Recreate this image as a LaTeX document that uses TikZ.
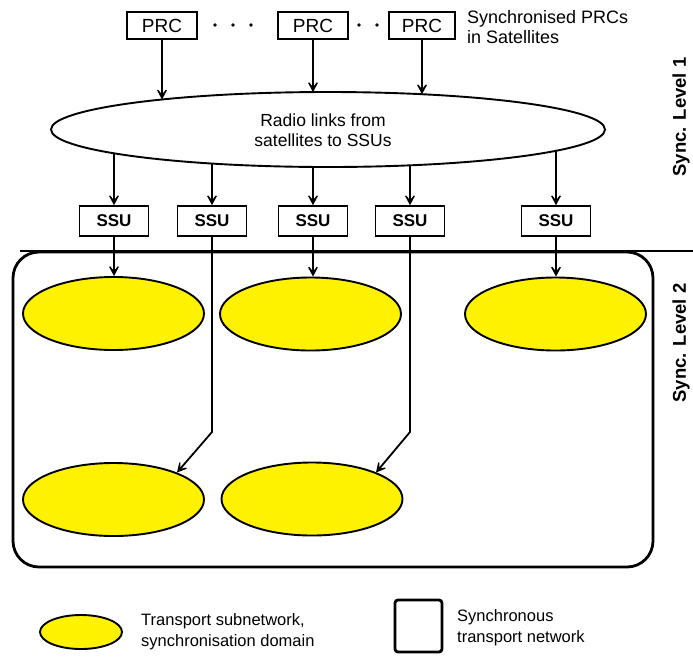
\documentclass[tikz,border=0pt]{standalone}
\usepackage{fontspec}
\setmainfont{Liberation Sans}
\usetikzlibrary{arrows.meta,shapes.geometric}

\begin{document}
\begin{tikzpicture}[x=1pt,y=-1pt,
  arr/.style={-{Stealth[length=15pt,width=16pt,inset=10pt]}, line width=1.8pt},
  prc/.style={draw, line width=1.6pt, minimum width=70pt, minimum height=27pt,
    inner sep=0pt, font=\fontsize{19}{22}\selectfont},
  ssu/.style={draw, line width=1.6pt, minimum width=69pt, minimum height=30pt,
    inner sep=0pt, font=\bfseries\fontsize{17}{19}\selectfont},
  dom/.style={ellipse, draw, fill=yellow, line width=1.9pt, inner sep=0pt,
    minimum width=181pt, minimum height=73pt},
  lbl/.style={align=left, anchor=west, inner sep=0pt},
  level/.style={rotate=90, font=\bfseries\fontsize{18.5}{21}\selectfont}]
\useasboundingbox (0,0) rectangle (693,657);

% primary reference clocks
\node[prc] (p1) at (162,25.5) {PRC};
\node[prc] (p2) at (313,25.5) {PRC};
\node[prc, minimum width=66pt] (p3) at (422,25.5) {PRC};
\foreach \x in {215,233,251,359,377} \fill (\x,25) circle (1.8pt);
\node[lbl, font=\fontsize{18}{19.5}\selectfont] (ptxt) at (467,27)
  {Synchronised PRCs\\in Satellites};

% radio links
\node[ellipse, draw, line width=1.9pt, inner sep=0pt,
  minimum width=554pt, minimum height=75pt] (radio) at (328,129.5) {};
\node[align=center, inner sep=0pt, font=\fontsize{17.5}{20}\selectfont]
  (rtxt) at (323,130) {Radio links from\\satellites to SSUs};

\coordinate (t1) at (162,99.5);
\coordinate (t2) at (313,92.1);
\coordinate (t3) at (422,94.2);
\draw[arr] (p1.south) -- (t1);
\draw[arr] (p2.south) -- (t2);
\draw[arr] (p3.south) -- (t3);

% synchronisation supply units
\node[ssu] (s1) at (114,221) {SSU};
\node[ssu] (s2) at (212,221) {SSU};
\node[ssu] (s3) at (313,221) {SSU};
\node[ssu] (s4) at (410,221) {SSU};
\node[ssu] (s5) at (556,221) {SSU};

\coordinate (b1) at (114,153.3);
\coordinate (b2) at (212,163.6);
\coordinate (b3) at (313,166.9);
\coordinate (b4) at (410,165.3);
\coordinate (b5) at (556,150.8);
\foreach \i in {1,...,5} \draw[arr] (b\i) -- (s\i.north);

% level boundary and transport network
\coordinate (hl) at (20,251);
\coordinate (hr) at (693,251);
\node[draw, line width=2.8pt, rounded corners=26pt, inner sep=0pt,
  minimum width=640pt, minimum height=315pt] (net) at (333,409.5) {};
\draw[line width=2.6pt] (hl) -- (hr);

% transport subnetworks
\node[dom] (e1) at (113.5,313.5) {};
\node[dom] (e2) at (310.5,314) {};
\node[dom] (e3) at (555.5,314) {};
\node[dom] (e4) at (113.5,499.5) {};
\node[dom] (e5) at (312,499) {};

\draw[arr] (s1.south) -- (s1.south |- e1.north);
\draw[arr] (s3.south) -- (s3.south |- e2.north);
\draw[arr] (s5.south) -- (s5.south |- e3.north);

\coordinate (k2) at (212,432);
\coordinate (k4) at (410,432);
\coordinate (t4) at (177,472.5);
\coordinate (t5) at (376,472.5);
\draw[arr] (s2.south) -- (k2) -- (t4);
\draw[arr] (s4.south) -- (k4) -- (t5);

% level labels
\node[level] (lv1) at (681,117) {Sync. Level 1};
\node[level] (lv2) at (681,343) {Sync. Level 2};

% legend
\node[dom, minimum width=82pt, minimum height=34pt] (lege) at (81,632) {};
\node[lbl, font=\fontsize{16.5}{21}\selectfont] (legetxt) at (141,632)
  {Transport subnetwork,\\synchronisation domain};
\node[draw, line width=2.8pt, rounded corners=3pt, inner sep=0pt,
  minimum width=47pt, minimum height=52pt] (legr) at (418.5,626) {};
\node[lbl, font=\fontsize{16.5}{21}\selectfont] (legrtxt) at (457,628)
  {Synchronous\\transport network};
\end{tikzpicture}
\end{document}
